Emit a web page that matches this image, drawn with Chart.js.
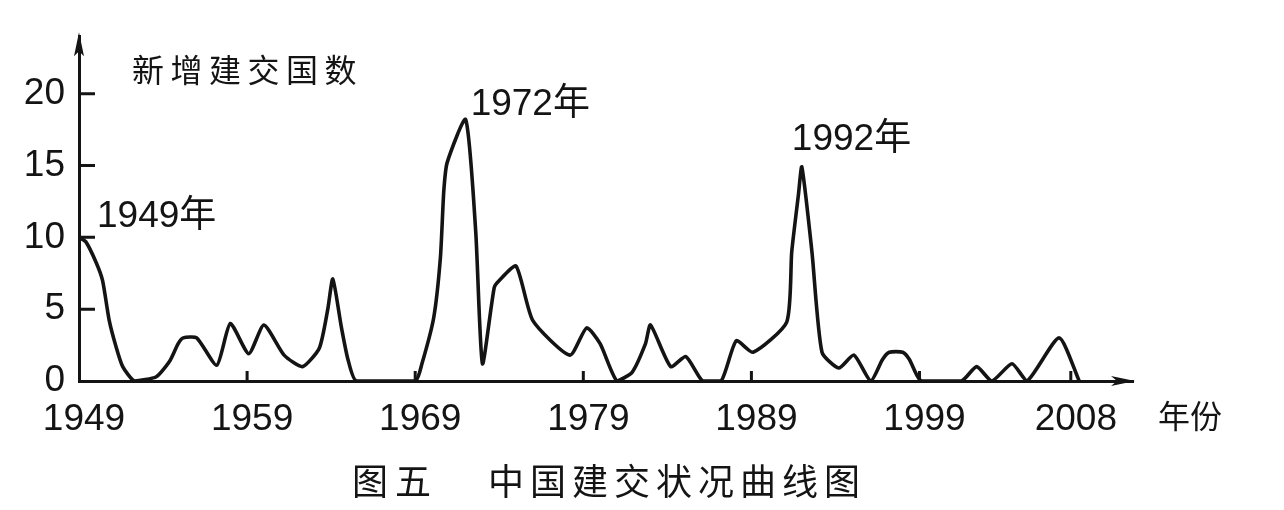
<!DOCTYPE html>
<html>
<head>
<meta charset="utf-8">
<script src="https://cdn.jsdelivr.net/npm/chart.js@4"></script>
<style>
  html, body { margin: 0; padding: 0; background: #fff; }
  canvas { display: block; }
</style>
</head>
<body>
<canvas id="chart" width="1284" height="510"></canvas>
<script>
// 新增建交国数 — vertices of the drawn curve (year, count)
const vertexYears = [
  1949, 1949.4, 1950, 1950.4, 1950.8, 1951.2, 1951.6, 1952.3, 1953.6, 1954.4, 1954.9, 1955.2, 1956,
  1957.2, 1958, 1959.1, 1960, 1961.2, 1962.3, 1963.3, 1963.8, 1964.1, 1964.6, 1965, 1965.5,
  1969, 1969.4, 1970.1, 1970.5, 1970.7, 1970.9, 1972, 1972.6, 1973, 1973.7, 1974, 1975, 1976,
  1978.2, 1979.2, 1980, 1981, 1981.9, 1982.7, 1983, 1984.2, 1985.1, 1986.1, 1987.2, 1988.1,
  1989.1, 1991.1, 1991.4, 1991.8, 1992, 1992.6, 1993.2, 1994.2, 1995.1, 1996.1, 1996.8, 1997.2,
  1998, 1998.4, 1999.1, 2001.5, 2002.4, 2003.3, 2004.5, 2005.4, 2007.3, 2008.5
];
const newCountries = [
  10, 9.7, 8.3, 7, 4.2, 2.4, 1, 0, 0.3, 1.4, 2.6, 3, 3,
  1.1, 4, 1.9, 3.9, 1.8, 1, 2.3, 5, 7.1, 3.8, 1.5, 0,
  0, 1.2, 4.4, 8.6, 13.2, 15.2, 18.2, 10.4, 1.2, 6.5, 7, 8, 4.2,
  1.8, 3.7, 2.6, 0, 0.6, 2.6, 3.9, 1, 1.7, 0, 0, 2.8,
  2, 4.1, 9, 13, 14.9, 9, 2, 0.9, 1.8, 0, 1.5, 2,
  2, 1.5, 0, 0, 1, 0, 1.2, 0, 3, 0
];

const xTickYears = [1949, 1959, 1969, 1979, 1989, 1999, 2008];
const yTickValues = [0, 5, 10, 15, 20];

const noteYears = [1949, 1972, 1992];
const noteTexts = ['1949年', '1972年', '1992年'];

const yTitle = '新增建交国数';
const xTitle = '年份';
const captionNo = '图五';
const captionText = '中国建交状况曲线图';

const INK = '#141414';
const NUM_FONT = '"Liberation Sans", Arial, sans-serif';
const CJK_FONT = '"Noto Sans CJK SC", sans-serif';

// 轴箭头、内侧刻度、文字说明
const decorations = {
  id: 'decorations',
  afterDraw(chart) {
    const { ctx, chartArea: a, scales: { x, y } } = chart;
    ctx.save();
    ctx.fillStyle = INK;
    ctx.strokeStyle = INK;

    // arrow heads
    ctx.beginPath();
    ctx.moveTo(a.left, a.top - 4);
    ctx.lineTo(a.left + 5, a.top + 20);
    ctx.lineTo(a.left, a.top + 15);
    ctx.lineTo(a.left - 5, a.top + 20);
    ctx.closePath();
    ctx.fill();
    ctx.beginPath();
    ctx.moveTo(a.right + 2, a.bottom);
    ctx.lineTo(a.right - 22, a.bottom - 5);
    ctx.lineTo(a.right - 16, a.bottom);
    ctx.lineTo(a.right - 22, a.bottom + 5);
    ctx.closePath();
    ctx.fill();

    // inward ticks
    ctx.lineWidth = 3;
    ctx.beginPath();
    yTickValues.slice(1).forEach(v => {
      const py = y.getPixelForValue(v);
      ctx.moveTo(a.left, py);
      ctx.lineTo(a.left + 16, py);
    });
    xTickYears.slice(1).forEach(v => {
      const px = x.getPixelForValue(v);
      ctx.moveTo(px, a.bottom);
      ctx.lineTo(px, a.bottom - 10);
    });
    ctx.stroke();

    // peak notes
    const offs = [[18, -21], [5, -15], [-10, -27]];
    ctx.font = '37px ' + NUM_FONT + ', ' + CJK_FONT;
    ctx.textBaseline = 'middle';
    ctx.textAlign = 'left';
    noteYears.forEach((yr, i) => {
      const v = newCountries[vertexYears.indexOf(yr)];
      ctx.fillText(noteTexts[i], x.getPixelForValue(yr) + offs[i][0], y.getPixelForValue(v) + offs[i][1]);
    });

    // axis titles and caption, char by char
    const spaced = (txt, x0, y0, pitch) => {
      [...txt].forEach((ch, i) => ctx.fillText(ch, x0 + i * pitch, y0));
    };
    ctx.font = '32px ' + CJK_FONT;
    spaced(yTitle, 132, 70, 38.5);
    spaced(xTitle, 1158, 416, 32);
    ctx.font = '36px ' + CJK_FONT;
    spaced(captionNo, 352, 481, 43);
    spaced(captionText, 488, 481, 42);
    ctx.restore();
  }
};

new Chart(document.getElementById('chart'), {
  type: 'line',
  data: {
    datasets: [{
      label: yTitle,
      data: vertexYears.map((yr, i) => ({ x: yr, y: newCountries[i] })),
      borderColor: INK,
      borderWidth: 3.6,
      borderJoinStyle: 'round',
      borderCapStyle: 'round',
      pointRadius: 0,
      tension: 0.2,
      fill: false
    }]
  },
  options: {
    responsive: false,
    devicePixelRatio: 1,
    animation: false,
    layout: { padding: { top: 34, right: 151, left: 0, bottom: 0 } },
    plugins: { legend: { display: false }, tooltip: { enabled: false } },
    scales: {
      x: {
        type: 'linear',
        min: 1949,
        max: 2011.7,
        afterFit: s => { s.height = 129; },
        afterBuildTicks: s => { s.ticks = xTickYears.map(v => ({ value: v })); },
        grid: { display: false, drawTicks: false },
        border: { display: true, color: INK, width: 3 },
        ticks: {
          color: INK,
          padding: 17,
          labelOffset: 5,
          maxRotation: 0,
          autoSkip: false,
          font: { family: NUM_FONT, size: 37 },
          callback: v => String(v)
        }
      },
      y: {
        min: 0,
        max: 24,
        afterFit: s => { s.width = 79; },
        afterBuildTicks: s => { s.ticks = yTickValues.map(v => ({ value: v })); },
        grid: { display: false, drawTicks: false },
        border: { display: true, color: INK, width: 3 },
        ticks: {
          color: INK,
          padding: 14,
          font: { family: NUM_FONT, size: 37 }
        }
      }
    }
  },
  plugins: [decorations]
});
</script>
</body>
</html>
